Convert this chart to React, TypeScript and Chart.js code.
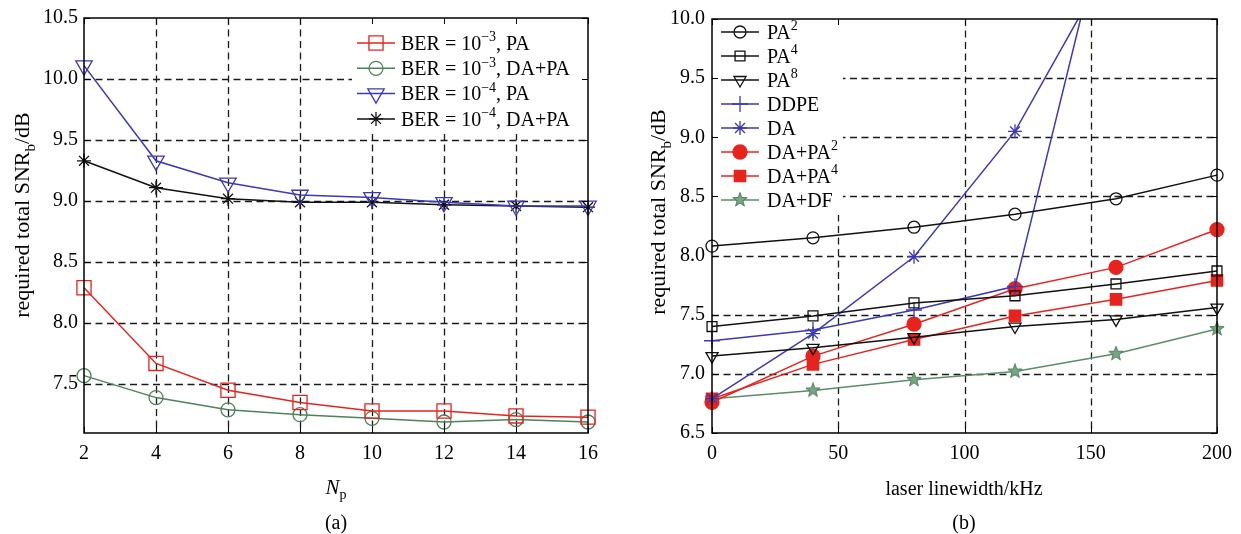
import React, { useEffect, useRef } from 'react';
import { Chart, registerables } from 'chart.js';
import { drawPoint } from 'chart.js/helpers';

Chart.register(...registerables);

const FONT = '"Liberation Serif", "DejaVu Serif", "Times New Roman", serif';

// ---------- Panel (a) data ----------
const npValues = [2, 4, 6, 8, 10, 12, 14, 16];
const ber3PA = [8.29, 7.67, 7.45, 7.35, 7.28, 7.28, 7.24, 7.23];
const ber3DAPA = [7.57, 7.39, 7.29, 7.25, 7.22, 7.19, 7.21, 7.19];
const ber4PA = [10.11, 9.33, 9.15, 9.05, 9.03, 8.99, 8.96, 8.96];
const ber4DAPA = [9.33, 9.11, 9.02, 8.99, 8.99, 8.97, 8.96, 8.95];
const aXTicks = [2, 4, 6, 8, 10, 12, 14, 16];
const aYTicks = [7.5, 8.0, 8.5, 9.0, 9.5, 10.0, 10.5];
const aLabels = [
  'BER = 10^{−3}, PA',
  'BER = 10^{−3}, DA+PA',
  'BER = 10^{−4}, PA',
  'BER = 10^{−4}, DA+PA',
];

// ---------- Panel (b) data ----------
const linewidthKHz = [0, 40, 80, 120, 160, 200];
const pa2 = [8.08, 8.15, 8.24, 8.35, 8.48, 8.68];
const pa4 = [7.4, 7.49, 7.6, 7.66, 7.76, 7.87];
const pa8 = [7.15, 7.22, 7.31, 7.4, 7.46, 7.56];
const ddpe: (number | null)[] = [7.28, 7.37, 7.54, 7.74, 11.22, null];
const da: (number | null)[] = [6.79, 7.34, 7.99, 9.05, 10.57, null];
const daPa2 = [6.76, 7.15, 7.42, 7.72, 7.9, 8.22];
const daPa4 = [6.79, 7.08, 7.29, 7.49, 7.63, 7.79];
const daDf = [6.79, 6.86, 6.95, 7.02, 7.17, 7.38];
const bXTicks = [0, 50, 100, 150, 200];
const bYTicks = [6.5, 7.0, 7.5, 8.0, 8.5, 9.0, 9.5, 10.0];
const bLabels = ['PA^{2}', 'PA^{4}', 'PA^{8}', 'DDPE', 'DA', 'DA+PA^{2}', 'DA+PA^{4}', 'DA+DF'];

const RED = '#e8231e';
const GREEN_A = '#4e8259';
const BLUE = '#3d39b5';
const BLACK = '#111111';
const GREEN_B = '#5a8d68';
const NONE = 'rgba(0,0,0,0)';

const CLIP_ALL = { left: 14, right: 14, top: 14, bottom: 14 };
const CLIP_TOP = { left: 14, right: 14, top: 0, bottom: 14 };

type Run = { t: string; kind: 'n' | 'sup' | 'sub' | 'it' };

function parseRuns(s: string): Run[] {
  const out: Run[] = [];
  const re = /(\^\{[^}]*\}|_\{[^}]*\}|\*\{[^}]*\})/g;
  let last = 0;
  let m: RegExpExecArray | null;
  while ((m = re.exec(s))) {
    if (m.index > last) out.push({ t: s.slice(last, m.index), kind: 'n' });
    const tok = m[0];
    out.push({ t: tok.slice(2, -1), kind: tok[0] === '^' ? 'sup' : tok[0] === '_' ? 'sub' : 'it' });
    last = m.index + tok.length;
  }
  if (last < s.length) out.push({ t: s.slice(last), kind: 'n' });
  return out;
}

function drawRich(ctx: CanvasRenderingContext2D, s: string, x: number, y: number, size: number, align: 'left' | 'center') {
  const runs = parseRuns(s);
  const small = Math.round(size * 0.68);
  const fontFor = (r: Run) =>
    r.kind === 'sup' || r.kind === 'sub' ? `${small}px ${FONT}` : r.kind === 'it' ? `italic ${size}px ${FONT}` : `${size}px ${FONT}`;
  let total = 0;
  const widths = runs.map((r) => {
    ctx.font = fontFor(r);
    const w = ctx.measureText(r.t).width;
    total += w;
    return w;
  });
  let cx = align === 'center' ? x - total / 2 : x;
  const base = y + size * 0.33;
  ctx.textAlign = 'left';
  ctx.textBaseline = 'alphabetic';
  ctx.fillStyle = '#000';
  runs.forEach((r, i) => {
    ctx.font = fontFor(r);
    const dy = r.kind === 'sup' ? -size * 0.42 : r.kind === 'sub' ? size * 0.24 : 0;
    ctx.fillText(r.t, cx, base + dy);
    cx += widths[i];
  });
}

type TextSpec = { s: string; x: number; y: number; size: number; rotate?: boolean };
type LegendSpec = {
  x: number; y: number; w: number; h: number;
  row0: number; step: number; line0: number; line1: number; textX: number; labels: string[];
};
type PanelSpec = { xTicks: number[]; yTicks: number[]; legend: LegendSpec; texts: TextSpec[] };

function panelPlugin(spec: PanelSpec) {
  return {
    id: 'panelDeco',
    beforeDatasetsDraw(chart: any) {
      const ctx: CanvasRenderingContext2D = chart.ctx;
      const { left, right, top, bottom } = chart.chartArea;
      const xs = chart.scales.x;
      const ys = chart.scales.y;
      ctx.save();
      ctx.strokeStyle = '#1a1a1a';
      ctx.lineWidth = 1.3;
      ctx.setLineDash([7, 4.5]);
      spec.yTicks.forEach((v) => {
        const py = Math.round(ys.getPixelForValue(v)) + 0.5;
        if (py <= top + 1 || py >= bottom - 1) return;
        ctx.beginPath();
        ctx.moveTo(left, py);
        ctx.lineTo(right, py);
        ctx.stroke();
      });
      spec.xTicks.forEach((v) => {
        const px = Math.round(xs.getPixelForValue(v)) + 0.5;
        if (px <= left + 1 || px >= right - 1) return;
        ctx.beginPath();
        ctx.moveTo(px, top);
        ctx.lineTo(px, bottom);
        ctx.stroke();
      });
      ctx.setLineDash([]);
      const L = spec.legend;
      ctx.fillStyle = '#fff';
      ctx.fillRect(L.x, L.y, L.w, L.h);
      ctx.restore();
    },
    afterDatasetsDraw(chart: any) {
      const ctx: CanvasRenderingContext2D = chart.ctx;
      const { left, right, top, bottom } = chart.chartArea;
      const xs = chart.scales.x;
      const ys = chart.scales.y;
      const L = spec.legend;
      ctx.save();
      chart.data.datasets.forEach((ds: any, i: number) => {
        const y = L.row0 + i * L.step;
        ctx.strokeStyle = ds.borderColor;
        ctx.lineWidth = ds.borderWidth;
        ctx.beginPath();
        ctx.moveTo(L.line0, y);
        ctx.lineTo(L.line1, y);
        ctx.stroke();
        ctx.fillStyle = ds.pointBackgroundColor;
        ctx.strokeStyle = ds.pointBorderColor;
        ctx.lineWidth = ds.pointBorderWidth;
        drawPoint(ctx, {
          pointStyle: ds.pointStyle,
          rotation: ds.pointRotation || 0,
          radius: ds.pointRadius,
          borderWidth: ds.pointBorderWidth,
        } as any, (L.line0 + L.line1) / 2, y);
        drawRich(ctx, L.labels[i], L.textX, y, 20, 'left');
      });
      // inward ticks
      ctx.strokeStyle = '#000';
      ctx.lineWidth = 1;
      const tl = 6;
      spec.xTicks.forEach((v) => {
        const px = Math.round(xs.getPixelForValue(v)) + 0.5;
        ctx.beginPath();
        ctx.moveTo(px, bottom);
        ctx.lineTo(px, bottom - tl);
        ctx.moveTo(px, top);
        ctx.lineTo(px, top + tl);
        ctx.stroke();
      });
      spec.yTicks.forEach((v) => {
        const py = Math.round(ys.getPixelForValue(v)) + 0.5;
        ctx.beginPath();
        ctx.moveTo(left, py);
        ctx.lineTo(left + tl, py);
        ctx.moveTo(right, py);
        ctx.lineTo(right - tl, py);
        ctx.stroke();
      });
      // box
      ctx.lineWidth = 1.5;
      ctx.strokeRect(left, top, right - left, bottom - top);
      ctx.restore();
    },
    afterDraw(chart: any) {
      const ctx: CanvasRenderingContext2D = chart.ctx;
      ctx.save();
      spec.texts.forEach((t) => {
        if (t.rotate) {
          ctx.save();
          ctx.translate(t.x, t.y);
          ctx.rotate(-Math.PI / 2);
          drawRich(ctx, t.s, 0, 0, t.size, 'center');
          ctx.restore();
        } else {
          drawRich(ctx, t.s, t.x, t.y, t.size, 'center');
        }
      });
      ctx.restore();
    },
  };
}

function series(xs: number[], ys: (number | null)[]) {
  return ys.map((y, i) => ({ x: xs[i], y }));
}

function lineDs(data: any[], color: string, style: any, radius: number, fill: string, extra: any = {}) {
  return {
    data,
    borderColor: color,
    borderWidth: 1.5,
    backgroundColor: NONE,
    pointStyle: style,
    pointRadius: radius,
    pointBorderWidth: 1.3,
    pointBorderColor: color,
    pointBackgroundColor: fill,
    pointRotation: 0,
    tension: 0,
    spanGaps: false,
    fill: false,
    clip: CLIP_ALL,
    ...extra,
  };
}

function makePentagram(): HTMLCanvasElement {
  const c = document.createElement('canvas');
  c.width = 16;
  c.height = 16;
  const g = c.getContext('2d')!;
  g.beginPath();
  for (let k = 0; k < 10; k++) {
    const r = k % 2 === 0 ? 7.5 : 3;
    const a = -Math.PI / 2 + (k * Math.PI) / 5;
    const px = 8 + r * Math.cos(a);
    const py = 8 + r * Math.sin(a);
    if (k === 0) g.moveTo(px, py);
    else g.lineTo(px, py);
  }
  g.closePath();
  g.fillStyle = '#79a584';
  g.fill();
  g.strokeStyle = '#4d7f5a';
  g.lineWidth = 1;
  g.stroke();
  return c;
}

function baseOptions(xMin: number, xMax: number, yMin: number, yMax: number, xTicks: number[], yTicks: number[], yWidth: number, padRight: number, yPad: number) {
  return {
    responsive: false,
    animation: false as const,
    events: [] as any[],
    layout: { padding: { left: 0, right: padRight, top: 15, bottom: 0 } },
    plugins: { legend: { display: false }, tooltip: { enabled: false }, title: { display: false } },
    scales: {
      x: {
        type: 'linear' as const,
        min: xMin,
        max: xMax,
        grid: { display: false, drawTicks: false },
        border: { display: false },
        afterBuildTicks: (s: any) => { s.ticks = xTicks.map((v) => ({ value: v })); },
        afterFit: (s: any) => { s.height = 101; },
        ticks: {
          color: '#000',
          font: { family: FONT, size: 20 },
          padding: 9,
          maxRotation: 0,
          autoSkip: false,
          callback: (v: any) => String(v),
        },
      },
      y: {
        type: 'linear' as const,
        min: yMin,
        max: yMax,
        grid: { display: false, drawTicks: false },
        border: { display: false },
        afterBuildTicks: (s: any) => { s.ticks = yTicks.map((v) => ({ value: v })); },
        afterFit: (s: any) => { s.width = yWidth; },
        ticks: {
          color: '#000',
          font: { family: FONT, size: 20 },
          padding: yPad,
          autoSkip: false,
          callback: (v: any) => Number(v).toFixed(1),
        },
      },
    },
  };
}

function configA(): any {
  return {
    type: 'line',
    data: {
      datasets: [
        lineDs(series(npValues, ber3PA), RED, 'rect', 10, NONE),
        lineDs(series(npValues, ber3DAPA), GREEN_A, 'circle', 7, NONE),
        lineDs(series(npValues, ber4PA), BLUE, 'triangle', 9.5, NONE, { pointRotation: 180 }),
        lineDs(series(npValues, ber4DAPA), BLACK, 'star', 7, NONE),
      ],
    },
    options: baseOptions(2, 16, 7.1, 10.5, aXTicks, aYTicks, 84, 32, 6),
    plugins: [
      panelPlugin({
        xTicks: aXTicks,
        yTicks: aYTicks,
        legend: { x: 352, y: 15, w: 236, h: 119, row0: 43, step: 25.3, line0: 357, line1: 395, textX: 401, labels: aLabels },
        texts: [
          { s: 'required total SNR_{b}/dB', x: 22, y: 215, size: 22, rotate: true },
          { s: '*{N}_{p}', x: 336, y: 487, size: 21 },
          { s: '(a)', x: 336, y: 522, size: 20 },
        ],
      }),
    ],
  };
}

function configB(): any {
  const pent = makePentagram();
  return {
    type: 'line',
    data: {
      datasets: [
        lineDs(series(linewidthKHz, pa2), BLACK, 'circle', 6, NONE),
        lineDs(series(linewidthKHz, pa4), BLACK, 'rect', 7, NONE),
        lineDs(series(linewidthKHz, pa8), BLACK, 'triangle', 7, NONE, { pointRotation: 180 }),
        lineDs(series(linewidthKHz, ddpe), BLUE, 'cross', 8, NONE, { clip: CLIP_TOP }),
        lineDs(series(linewidthKHz, da), BLUE, 'star', 7, NONE, { clip: CLIP_TOP }),
        lineDs(series(linewidthKHz, daPa2), RED, 'circle', 7, RED),
        lineDs(series(linewidthKHz, daPa4), RED, 'rect', 8, RED),
        lineDs(series(linewidthKHz, daDf), GREEN_B, pent, 8, GREEN_B),
      ],
    },
    options: baseOptions(0, 200, 6.5, 10.0, bXTicks, bYTicks, 92, 24, 7),
    plugins: [
      panelPlugin({
        xTicks: bXTicks,
        yTicks: bYTicks,
        legend: { x: 93, y: 16, w: 130, h: 199, row0: 32, step: 24, line0: 101, line1: 139, textX: 147, labels: bLabels },
        texts: [
          { s: 'required total SNR_{b}/dB', x: 38, y: 212, size: 22, rotate: true },
          { s: 'laser linewidth/kHz', x: 344, y: 488, size: 20 },
          { s: '(b)', x: 344, y: 522, size: 20 },
        ],
      }),
    ],
  };
}

export default function App() {
  const refA = useRef<HTMLCanvasElement>(null);
  const refB = useRef<HTMLCanvasElement>(null);
  useEffect(() => {
    const ca = new Chart(refA.current!, configA());
    const cb = new Chart(refB.current!, configB());
    return () => {
      ca.destroy();
      cb.destroy();
    };
  }, []);
  return (
    <div style={{ position: 'absolute', left: 0, top: 0, width: 1241, height: 534, background: '#fff' }}>
      <canvas ref={refA} width={620} height={534} style={{ position: 'absolute', left: 0, top: 0, width: 620, height: 534 }} />
      <canvas ref={refB} width={621} height={534} style={{ position: 'absolute', left: 620, top: 0, width: 621, height: 534 }} />
    </div>
  );
}
